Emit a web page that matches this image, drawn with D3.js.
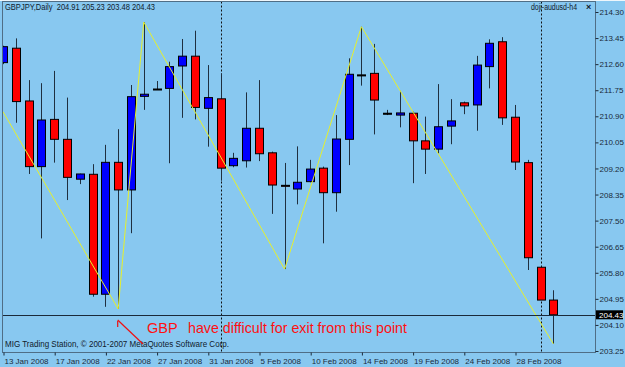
<!DOCTYPE html>
<html>
<head>
<meta charset="utf-8">
<script src="https://cdn.jsdelivr.net/npm/d3@7"></script>
<style>
  html, body { margin: 0; padding: 0; background: #88c8f0; }
  svg { display: block; }
  text { font-family: "Liberation Sans", Arial, sans-serif; }
</style>
</head>
<body>
<svg id="chart" width="625" height="367"></svg>
<script>
// ---- data ----
const dates = ["13 Jan 2008","14 Jan 2008","15 Jan 2008","16 Jan 2008","17 Jan 2008","18 Jan 2008","20 Jan 2008","21 Jan 2008",
  "22 Jan 2008","23 Jan 2008","24 Jan 2008","25 Jan 2008","27 Jan 2008","28 Jan 2008","29 Jan 2008","30 Jan 2008",
  "31 Jan 2008","1 Feb 2008","3 Feb 2008","4 Feb 2008","5 Feb 2008","6 Feb 2008","7 Feb 2008","8 Feb 2008",
  "10 Feb 2008","11 Feb 2008","12 Feb 2008","13 Feb 2008","14 Feb 2008","15 Feb 2008","17 Feb 2008","18 Feb 2008",
  "19 Feb 2008","20 Feb 2008","21 Feb 2008","22 Feb 2008","24 Feb 2008","25 Feb 2008","26 Feb 2008","27 Feb 2008",
  "28 Feb 2008","29 Feb 2008","2 Mar 2008","3 Mar 2008"];
const openV  = [212.65,213.12,211.40,209.26,210.80,210.15,208.85,209.01,205.10,209.40,208.50,211.55,211.79,211.81,212.54,212.86,
  211.16,211.47,209.29,209.45,210.51,209.71,208.65,208.53,208.77,209.21,208.41,210.15,212.25,212.30,211.00,210.94,
  211.00,210.10,209.83,210.58,211.34,211.27,212.52,213.33,210.87,209.39,205.98,204.91];
const highV  = [213.20,213.44,212.08,211.98,212.38,211.51,209.03,209.34,209.97,210.48,211.92,213.97,212.05,212.68,213.42,213.69,
  212.57,212.30,209.71,211.68,212.08,209.75,209.38,209.92,209.48,209.26,210.94,212.79,213.82,213.26,211.11,211.73,
  211.05,210.89,211.95,211.46,211.38,212.87,213.41,213.48,211.27,209.48,206.00,205.23];
const lowV   = [212.60,210.69,209.02,206.92,209.39,208.17,208.69,205.02,204.69,204.62,207.09,211.11,211.76,209.37,210.85,210.80,
  209.91,208.80,209.24,209.23,209.44,207.72,205.92,208.03,208.75,206.76,207.79,209.31,211.90,210.31,210.94,210.54,
  208.72,209.02,209.69,209.99,210.97,210.43,211.81,210.62,209.15,205.89,204.91,203.48];
const closeV = [213.17,211.38,209.26,210.78,210.15,208.91,209.02,205.10,209.40,208.50,211.54,211.62,211.79,212.52,212.86,211.19,
  211.51,209.21,209.53,210.51,209.68,208.66,208.62,208.75,209.18,208.41,210.16,212.27,212.25,211.43,211.00,211.01,
  210.10,209.83,210.56,210.75,211.24,212.57,213.28,210.85,209.41,206.29,204.91,204.43];
// zigzag pivots: bar index and price
const zigIndex = [0, 9, 11, 22, 28, 43];
const zigValue = [211.05, 204.62, 213.97, 205.92, 213.82, 203.48];
// axis ticks
const yTicks = [214.30,213.45,212.60,211.75,210.90,210.05,209.20,208.35,207.50,206.65,205.80,204.95,204.10,203.25];
const xTickIndex = [0,4,8,12,16,20,24,28,32,36,40];
const separators = [17, 42];
const currentPrice = 204.43;
const titleText = "GBPJPY,Daily  204.91 205.23 203.48 204.43";
const indicatorText = "doji-audusd-h4";
const footerText = "MIG Trading Station, \u00a9 2001-2007 MetaQuotes Software Corp.";
const noteA = "GBP";
const noteB = "have difficult for exit from this point";

// ---- layout ----
const W = 625, H = 367;
const plotL = 2.5, plotR = 595.5, plotT = 1.5, plotB = 352.5;
const svg = d3.select("#chart");
const bg = "#88c8f0";
svg.append("rect").attr("width", W).attr("height", H).attr("fill", bg);

const x = d3.scaleLinear().domain([0, 43]).range([3, 3 + 43 * 12.8]);
const y = d3.scaleLinear().domain([203.25, 214.30]).range([351, 12]);

svg.append("clipPath").attr("id", "plotclip").append("rect")
  .attr("x", plotL + 0.5).attr("y", plotT + 0.5).attr("width", plotR - plotL - 1).attr("height", plotB - plotT - 1);

const plot = svg.append("g").attr("clip-path", "url(#plotclip)");

// separators (dotted)
plot.selectAll("line.sep").data(separators).join("line")
  .attr("x1", d => Math.round(x(d)) + 0.5).attr("x2", d => Math.round(x(d)) + 0.5)
  .attr("y1", plotT).attr("y2", plotB)
  .attr("stroke", "#111").attr("stroke-width", 1).attr("stroke-dasharray", "2,2");

// candles
const bars = d3.range(dates.length).map(i => ({i, o: openV[i], h: highV[i], l: lowV[i], c: closeV[i]}));
const cg = plot.selectAll("g.candle").data(bars).join("g");
cg.append("line")
  .attr("x1", d => Math.round(x(d.i)) + 0.5).attr("x2", d => Math.round(x(d.i)) + 0.5)
  .attr("y1", d => y(d.h)).attr("y2", d => y(d.l))
  .attr("stroke", "#1f2f3f").attr("stroke-width", 1);
cg.append("rect")
  .attr("x", d => Math.round(x(d.i)) - 3.5)
  .attr("y", d => Math.min(y(d.o), y(d.c)))
  .attr("width", 8)
  .attr("height", d => Math.max(1, Math.abs(y(d.o) - y(d.c))))
  .attr("fill", d => d.c > d.o ? "#0000ff" : (d.c < d.o ? "#ff0000" : "#000"))
  .attr("stroke", "#000").attr("stroke-width", 1);

// zigzag
const zz = zigIndex.map((d, k) => [x(d), y(zigValue[k])]);
plot.append("path").attr("d", d3.line()(zz))
  .attr("fill", "none").attr("stroke", "#e6f02c").attr("stroke-width", 1);

// current price line
plot.append("line").attr("x1", plotL).attr("x2", plotR)
  .attr("y1", Math.round(y(currentPrice)) + 0.5).attr("y2", Math.round(y(currentPrice)) + 0.5)
  .attr("stroke", "#1a2a3a").attr("stroke-width", 1);

// frame
svg.append("line").attr("x1", 0).attr("x2", W).attr("y1", 0.5).attr("y2", 0.5).attr("stroke", "#eef6fb");
svg.append("rect").attr("x", plotL).attr("y", plotT).attr("width", plotR - plotL).attr("height", plotB - plotT)
  .attr("fill", "none").attr("stroke", "#4f6e86").attr("stroke-width", 1);

// y axis
const yAxis = d3.axisRight(y).tickValues(yTicks).tickFormat(d3.format(".2f")).tickSize(3).tickPadding(1);
const ya = svg.append("g").attr("transform", `translate(${plotR},0)`).call(yAxis);
ya.select(".domain").remove();
ya.selectAll("line").attr("stroke", "#1a2a3a");
ya.selectAll("text").attr("font-size", 8).attr("fill", "#1a2a3a").attr("font-family", "Liberation Sans, Arial, sans-serif");

// current price label
const cy = y(currentPrice);
svg.append("rect").attr("x", 596).attr("y", cy - 4.5).attr("width", 27).attr("height", 9).attr("fill", "#000");
svg.append("text").attr("x", 599).attr("y", cy + 3).attr("font-size", 8).attr("fill", "#fff").text(d3.format(".2f")(currentPrice));

// x axis
const xAxis = d3.axisBottom(x).tickValues(xTickIndex).tickFormat(i => dates[i]).tickSize(3).tickPadding(0);
const xa = svg.append("g").attr("transform", `translate(0,${plotB})`).call(xAxis);
xa.select(".domain").remove();
xa.selectAll("line").attr("stroke", "#1a2a3a").attr("transform", "translate(0.5,0)");
xa.selectAll("text").attr("font-size", 8).attr("fill", "#1a2a3a").attr("text-anchor", "start")
  .attr("dx", 1).attr("dy", "1em").attr("font-family", "Liberation Sans, Arial, sans-serif");

// texts
svg.append("text").attr("x", 5).attr("y", 10).attr("font-size", 8.5).attr("fill", "#10202c")
  .attr("textLength", 150).attr("lengthAdjust", "spacingAndGlyphs").style("white-space", "pre").text(titleText);
svg.append("text").attr("x", 531).attr("y", 10).attr("font-size", 8.5).attr("fill", "#10202c")
  .attr("textLength", 46).attr("lengthAdjust", "spacingAndGlyphs").text(indicatorText);
svg.append("text").attr("x", 586).attr("y", 10).attr("font-size", 9).attr("font-weight", "bold").attr("fill", "#10202c").text("\u00d7");
svg.append("text").attr("x", 5).attr("y", 347).attr("font-size", 8.5).attr("fill", "#10202c")
  .attr("textLength", 224).attr("lengthAdjust", "spacingAndGlyphs").text(footerText);

// annotation
svg.append("text").attr("x", 147).attr("y", 333).attr("font-size", 14.5).attr("fill", "#ff1010").text(noteA);
svg.append("text").attr("x", 188).attr("y", 333).attr("font-size", 14.5).attr("fill", "#ff1010")
  .attr("textLength", 219).attr("lengthAdjust", "spacingAndGlyphs").text(noteB);
const ax0 = x(9) - 0.5;
svg.append("line").attr("x1", ax0).attr("y1", 320).attr("x2", 143).attr("y2", 344).attr("stroke", "#ee1010").attr("stroke-width", 1.2);
svg.append("line").attr("x1", ax0).attr("y1", 321).attr("x2", ax0).attr("y2", 327).attr("stroke", "#ee1010").attr("stroke-width", 1.2);
</script>
</body>
</html>
